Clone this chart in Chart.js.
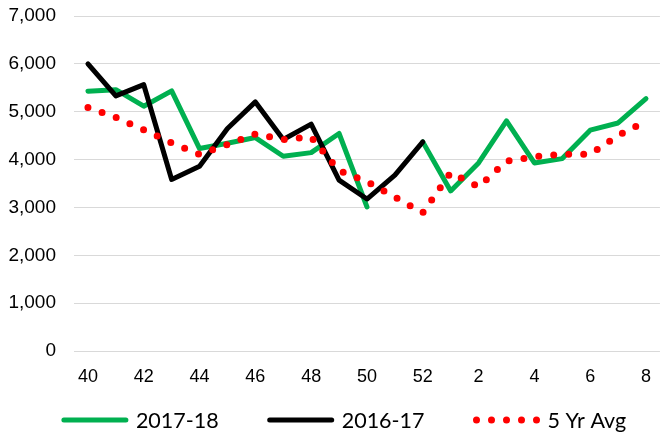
<!DOCTYPE html>
<html>
<head>
<meta charset="utf-8">
<script src="https://cdn.jsdelivr.net/npm/chart.js@4.4.0/dist/chart.umd.min.js"></script>
<style>
  html, body { margin: 0; padding: 0; overflow: hidden; background: #fff; }
</style>
</head>
<body>
<canvas id="chart" width="666" height="436"></canvas>
<script>
// week numbers, season runs wk 40 -> wk 8
const weeks = [40, 41, 42, 43, 44, 45, 46, 47, 48, 49, 50, 51, 52, 1, 2, 3, 4, 5, 6, 7, 8];

const season1718 = [5430, 5460, 5115, 5435, 4230, 4340, 4460, 4070, 4145, 4545, 3010, null, 4370,
                    3345, 3930, 4810, 3930, 4020, 4615, 4765, 5275];
const season1617 = [6000, 5330, 5565, 3585, 3860, 4650, 5205, 4420, 4740, 3570, 3175, 3675, 4370,
                    null, null, null, null, null, null, null, null];
const fiveYrAvg = [5090, 4880, 4620, 4350, 4110, 4315, 4535, 4420, 4470, 3770, 3540, 3215, 2890,
                   3725, 3430, 3965, 4060, 4110, 4110, 4505, 4800];

const yMin = 0;
const yMax = 7000;
const yStep = 1000;

// legend drawn under the axis, excel style: line sample then label
const lineLegend = {
    id: 'lineLegend',
    afterDraw(chart) {
        const c = chart.ctx;
        const sample = 62, textGap = 10, itemGap = 51;
        const lineY = 420, textY = 421;
        c.save();
        c.font = '21.5px Lato';
        c.textBaseline = 'middle';
        const items = chart.data.datasets.map(ds => ({ ds, w: c.measureText(ds.label).width }));
        let total = itemGap * (items.length - 1);
        items.forEach(it => { total += sample + textGap + it.w; });
        let x = 345 - total / 2;
        items.forEach(it => {
            const ds = it.ds;
            c.beginPath();
            c.strokeStyle = ds.borderColor;
            c.lineWidth = ds.borderWidth;
            c.lineCap = 'round';
            c.setLineDash(ds.borderDash || []);
            c.moveTo(x + (ds.borderDash ? 1 : 0), lineY);
            c.lineTo(x + sample, lineY);
            c.stroke();
            c.setLineDash([]);
            c.fillStyle = '#000';
            c.fillText(ds.label, x + sample + textGap, textY);
            x += sample + textGap + it.w + itemGap;
        });
        c.restore();
    }
};

const ctx = document.getElementById('chart').getContext('2d');

new Chart(ctx, {
    type: 'line',
    data: {
        labels: weeks,
        datasets: [{
            label: '2017-18',
            data: season1718,
            borderColor: '#00b050',
            borderWidth: 5,
            borderCapStyle: 'round',
            borderJoinStyle: 'round',
            pointRadius: 0,
            spanGaps: false,
            fill: false,
            order: 3
        }, {
            label: '2016-17',
            data: season1617,
            borderColor: '#000000',
            borderWidth: 5,
            borderCapStyle: 'round',
            borderJoinStyle: 'round',
            pointRadius: 0,
            fill: false,
            order: 2
        }, {
            label: '5 Yr Avg',
            data: fiveYrAvg,
            borderColor: '#ff0000',
            borderWidth: 7,
            borderDash: [0, 15],
            borderCapStyle: 'round',
            borderJoinStyle: 'round',
            pointRadius: 0,
            fill: false,
            order: 1
        }]
    },
    options: {
        responsive: false,
        animation: false,
        devicePixelRatio: 1,
        layout: {
            padding: { top: 16, left: 0, right: 0, bottom: 0 }
        },
        plugins: {
            tooltip: { enabled: false },
            legend: { display: false }
        },
        scales: {
            x: {
                type: 'category',
                offset: true,
                grid: { display: false, drawTicks: false },
                border: { display: false },
                ticks: {
                    autoSkip: false,
                    maxRotation: 0,
                    padding: 15,
                    color: '#000',
                    font: { family: 'Liberation Sans', size: 18 },
                    callback: function (value, index) {
                        return index % 2 === 0 ? this.getLabelForValue(value) : '';
                    }
                },
                afterFit: scale => { scale.height = 85; }
            },
            y: {
                min: yMin,
                max: yMax,
                grid: { color: '#d9d9d9', lineWidth: 1, drawTicks: false },
                border: { display: false },
                ticks: {
                    stepSize: yStep,
                    padding: 18,
                    color: '#000',
                    font: { family: 'Liberation Sans', size: 19 },
                    callback: value => value.toLocaleString('en-US')
                },
                afterFit: scale => {
                    scale.width = 74;
                    scale.paddingTop = 0;
                    scale.paddingBottom = 0;
                }
            }
        }
    },
    plugins: [lineLegend]
});
</script>
</body>
</html>
